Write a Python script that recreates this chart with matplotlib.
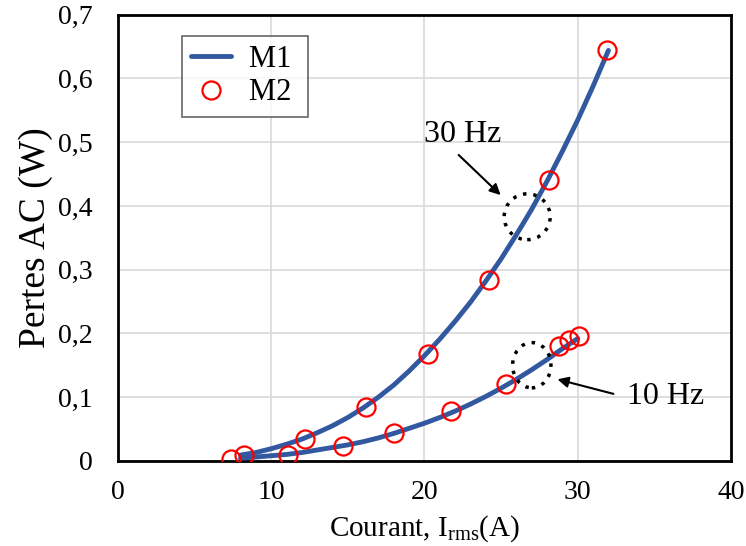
import matplotlib
matplotlib.use("Agg")
import matplotlib.pyplot as plt
from matplotlib.patches import Ellipse
from matplotlib.ticker import FuncFormatter, MultipleLocator

plt.rcParams['font.family'] = ['Liberation Serif', 'DejaVu Serif']
plt.rcParams['mathtext.fontset'] = 'custom'
plt.rcParams['mathtext.rm'] = 'Liberation Serif'

# M1 (model curves), 30 Hz and 10 Hz
m1_30_x = [8, 9, 10, 11, 12, 13, 14, 15, 16, 17, 18, 19, 20,
           21, 22, 23, 24, 25, 26, 27, 28, 29, 30, 31, 32]
m1_30_y = [0.009, 0.013, 0.019, 0.026, 0.034, 0.044, 0.055, 0.068, 0.083, 0.100, 0.119, 0.141, 0.165,
           0.191, 0.219, 0.249, 0.282, 0.317, 0.355, 0.395, 0.439, 0.486, 0.535, 0.588, 0.644]
m1_10_x = [8, 9, 10, 11, 12, 13, 14, 15, 16, 17, 18, 19, 20,
           21, 22, 23, 24, 25, 26, 27, 28, 29, 30]
m1_10_y = [0.004, 0.006, 0.008, 0.010, 0.013, 0.017, 0.021, 0.025, 0.030, 0.036, 0.043, 0.051, 0.059,
           0.068, 0.078, 0.089, 0.101, 0.114, 0.128, 0.143, 0.159, 0.176, 0.192]

# M2 (points)
m2_30_x = [7.4, 8.2, 12.2, 16.2, 20.2, 24.2, 28.1, 31.9]
m2_30_y = [0.003, 0.009, 0.034, 0.084, 0.167, 0.284, 0.441, 0.644]
m2_10_x = [11.1, 14.7, 18.0, 21.7, 25.35, 28.8, 29.4, 30.1]
m2_10_y = [0.009, 0.024, 0.043, 0.078, 0.120, 0.180, 0.189, 0.196]

blue = '#3259A0'
red = '#FF0000'

fig = plt.figure(figsize=(7.46, 5.46), dpi=100)
ax = fig.add_axes((0.158, 0.156, 0.822, 0.817))

ax.plot(m1_30_x, m1_30_y, color=blue, lw=3.5, solid_capstyle='round', label='M1 ', zorder=3)
ax.plot(m1_10_x, m1_10_y, color=blue, lw=3.5, solid_capstyle='round', zorder=3)
ax.plot(m2_30_x, m2_30_y, 'o', mfc='none', mec=red, mew=1.6, ms=13, label='M2 ', zorder=4)
ax.plot(m2_10_x, m2_10_y, 'o', mfc='none', mec=red, mew=1.6, ms=13, zorder=4)

# dotted circles + arrows
ax.add_patch(Ellipse((26.7, 0.383), 3.0, 0.072, fill=False, ec='black', lw=2.5,
                     ls=(0, (1, 2)), zorder=5))
ax.add_patch(Ellipse((27.0, 0.150), 2.5, 0.071, fill=False, ec='black', lw=2.5,
                     ls=(0, (1, 2)), zorder=5))
ax.annotate('', xy=(25.1, 0.414), xytext=(22.1, 0.483),
            arrowprops=dict(arrowstyle='-|>', color='black', lw=1.5, mutation_scale=16))
ax.annotate('', xy=(28.5, 0.129), xytext=(32.5, 0.104),
            arrowprops=dict(arrowstyle='-|>', color='black', lw=1.5, mutation_scale=16))
ax.text(22.5, 0.512, '30 Hz', fontsize=23, ha='center', va='center')
ax.text(33.2, 0.101, '10 Hz', fontsize=23, ha='left', va='center')

ax.set_xlim(0, 40)
ax.set_ylim(0, 0.7)
ax.xaxis.set_major_locator(MultipleLocator(10))
ax.yaxis.set_major_locator(MultipleLocator(0.1))
ax.yaxis.set_major_formatter(FuncFormatter(lambda v, p: '0' if abs(v) < 1e-9 else f'{v:.1f}'.replace('.', ',')))
ax.grid(True, color='#d9d9d9', lw=1.2)
ax.set_axisbelow(True)
ax.tick_params(length=0, labelsize=20)
ax.tick_params(axis='y', pad=18)
ax.tick_params(axis='x', pad=14)
for s in ax.spines.values():
    s.set_linewidth(2)

ax.set_xlabel(r'Courant, I$_{\mathrm{rms}}$(A)', fontsize=21, labelpad=6)
ax.set_ylabel('Pertes AC (W)', fontsize=27, labelpad=4)

leg = ax.legend(loc='upper left', bbox_to_anchor=(0.104, 0.953), fontsize=22, frameon=True,
                fancybox=False, edgecolor='#404040', handlelength=1.3, borderpad=0.3,
                labelspacing=0.15, handletextpad=0.6, borderaxespad=0)
leg.get_frame().set_linewidth(1.2)

fig.savefig('out.png', dpi=100)
